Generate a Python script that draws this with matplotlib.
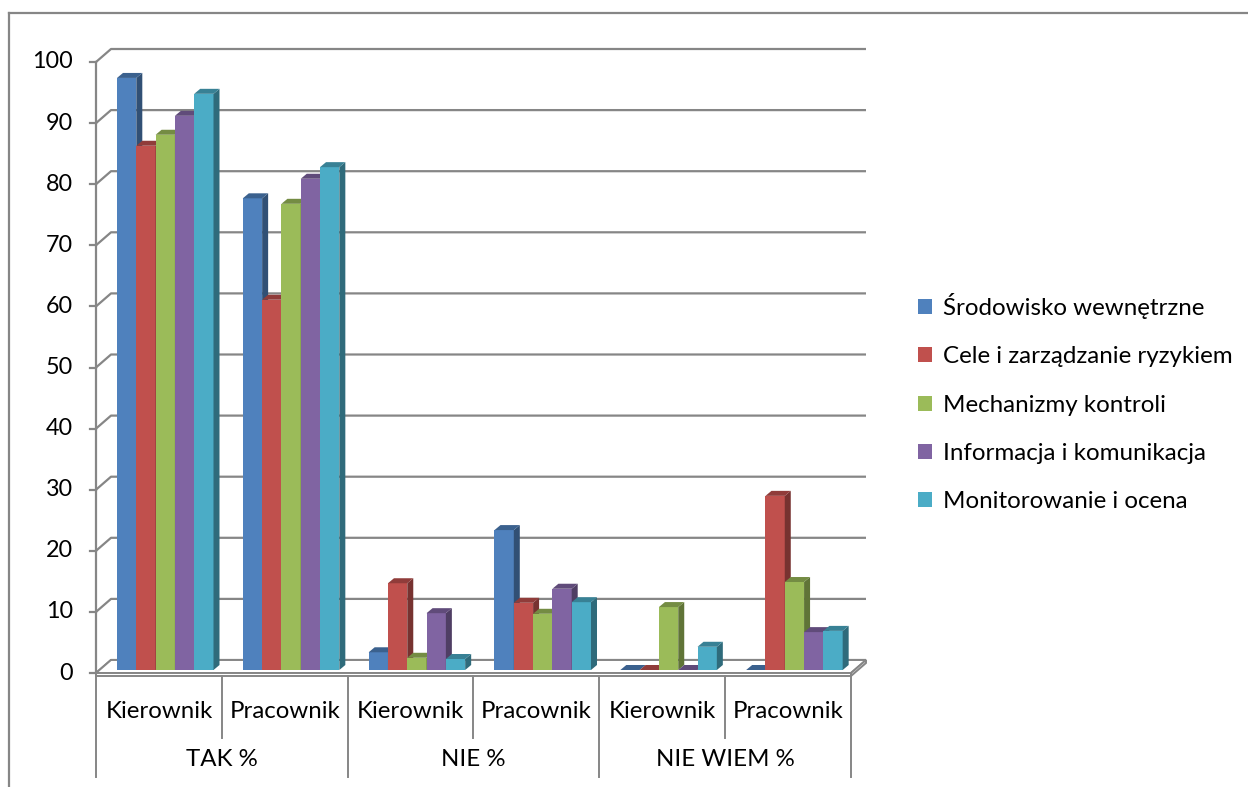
import matplotlib
matplotlib.use("Agg")
import matplotlib.pyplot as plt
from matplotlib.patches import Polygon, Patch
from matplotlib.lines import Line2D
import numpy as np

# ---------------- data ----------------
groups = ["TAK %", "NIE %", "NIE WIEM %"]
roles = ["Kierownik", "Pracownik"]
series_names = ["Środowisko wewnętrzne", "Cele i zarządzanie ryzykiem",
                "Mechanizmy kontroli", "Informacja i komunikacja",
                "Monitorowanie i ocena"]
# order of categories: TAK-K, TAK-P, NIE-K, NIE-P, NIEWIEM-K, NIEWIEM-P
srodowisko = [96.9, 77.2, 2.9, 22.9, 0.0, 0.0]
cele = [85.8, 60.6, 14.2, 11.0, 0.0, 28.5]
mechanizmy = [87.6, 76.3, 2.0, 9.2, 10.3, 14.4]
informacja = [90.7, 80.4, 9.3, 13.3, 0.0, 6.2]
monitorowanie = [94.3, 82.3, 1.8, 11.1, 3.8, 6.4]
yticks = list(range(0, 101, 10))

series_values = [srodowisko, cele, mechanizmy, informacja, monitorowanie]
colors = ["#4F81BD", "#C0504D", "#9BBB59", "#8064A2", "#4BACC6"]

FONT = "Lato"
plt.rcParams["font.family"] = [FONT, "DejaVu Sans"]
GRID = "#868686"

W, H = 1248, 787
fig = plt.figure(figsize=(W / 100, H / 100), dpi=100)
fig.patch.set_facecolor("white")

# front plane of the 3D plot area
left_px, right_px, zero_px, top_px = 96, 851, 673, 62
ax = fig.add_axes([left_px / W, (H - zero_px) / H, (right_px - left_px) / W,
                   (zero_px - top_px) / H])
ncat = len(srodowisko)
ax.set_xlim(0, ncat)
ax.set_ylim(0, 100)
ax.axis("off")

sx = (right_px - left_px) / ncat      # px per category
sy = (zero_px - top_px) / 100.0       # px per value unit


def px_x(p):
    return p / sx


def px_y(p):
    return p / sy


def shade(c, f):
    rgb = np.array(matplotlib.colors.to_rgb(c))
    return tuple(np.clip(rgb * f, 0, 1))


# back wall offsets
dxb, dyb = px_x(15), px_y(13)

# gridlines (side wall diagonal + back wall horizontal)
for v in yticks:
    ax.plot([0, dxb, ncat + dxb], [v, v + dyb, v + dyb], color=GRID, lw=1.6,
            clip_on=False, zorder=1, solid_capstyle="butt")

# floor slab
t = px_y(3)
floor = Polygon([(0, 0), (ncat, 0), (ncat + dxb, dyb), (dxb, dyb)], closed=True,
                facecolor="white", edgecolor=GRID, lw=1.4, zorder=1.5, clip_on=False)
ax.add_patch(floor)
ax.add_patch(Polygon([(0, 0), (ncat, 0), (ncat, -t), (0, -t)], closed=True,
                     facecolor="white", edgecolor=GRID, lw=1.4, zorder=1.5, clip_on=False))
ax.add_patch(Polygon([(ncat, 0), (ncat + dxb, dyb), (ncat + dxb, dyb - t), (ncat, -t)],
                     closed=True, facecolor="white", edgecolor=GRID, lw=1.4,
                     zorder=1.5, clip_on=False))

# value axis
ax.plot([0, 0], [0, 100], color=GRID, lw=1.6, clip_on=False, zorder=1.6)
for v in yticks:
    ax.plot([-px_x(6), 0], [v, v], color=GRID, lw=1.6, clip_on=False, zorder=1.6)
    ax.text(-px_x(23), v, str(v), ha="right", va="center", fontsize=16.8,
            color="black")

# bars
b0 = px_y(3)
off0 = px_x(21)
bw = px_x(19.3)
bdx, bdy = px_x(6), px_y(5)
z = 3.0
for i in range(ncat):
    for j, vals in enumerate(series_values):
        v = vals[i]
        c = colors[j]
        x0 = i + off0 + j * bw
        y1 = b0 + v
        ax.bar(x0, v, width=bw, bottom=b0, align="edge", color=c, lw=0,
               zorder=z, clip_on=False)
        ax.add_patch(Polygon([(x0 + bw, b0), (x0 + bw + bdx, b0 + bdy),
                              (x0 + bw + bdx, y1 + bdy), (x0 + bw, y1)],
                             closed=True, facecolor=shade(c, 0.62), lw=0,
                             zorder=z + 0.001, clip_on=False))
        ax.add_patch(Polygon([(x0, y1), (x0 + bdx, y1 + bdy),
                              (x0 + bw + bdx, y1 + bdy), (x0 + bw, y1)],
                             closed=True, facecolor=shade(c, 0.75), lw=0,
                             zorder=z + 0.002, clip_on=False))
        z += 0.01

# category axis (two levels)
for k in range(ncat + 1):
    end = px_y(65) if k % 2 == 1 else px_y(104)
    ax.plot([k, k], [-t, -end], color=GRID, lw=1.4, clip_on=False, zorder=1.6)
for i in range(ncat):
    ax.text(i + 0.5, -px_y(38), roles[i % 2], ha="center", va="center",
            fontsize=17.3, color="black")
for g, name in enumerate(groups):
    ax.text(2 * g + 1, -px_y(86), name, ha="center", va="center",
            fontsize=17.3, color="black")

# legend
handles = [Patch(facecolor=c, edgecolor="none") for c in colors]
fig.legend(handles, series_names, loc="upper left",
           bbox_to_anchor=(918 / W, 1 - 293 / H), frameon=False, fontsize=17.4,
           handlelength=0.57, handleheight=0.57, handletextpad=0.45,
           labelspacing=1.13, borderpad=0, borderaxespad=0)

# chart border (top and left visible)
fig.add_artist(Line2D([9 / W, 1], [1 - 12.5 / H, 1 - 12.5 / H],
                      transform=fig.transFigure, color=GRID, lw=1.6))
fig.add_artist(Line2D([9 / W, 9 / W], [0, 1 - 12.5 / H],
                      transform=fig.transFigure, color=GRID, lw=1.6))

fig.savefig("out.png", dpi=100, facecolor="white")
